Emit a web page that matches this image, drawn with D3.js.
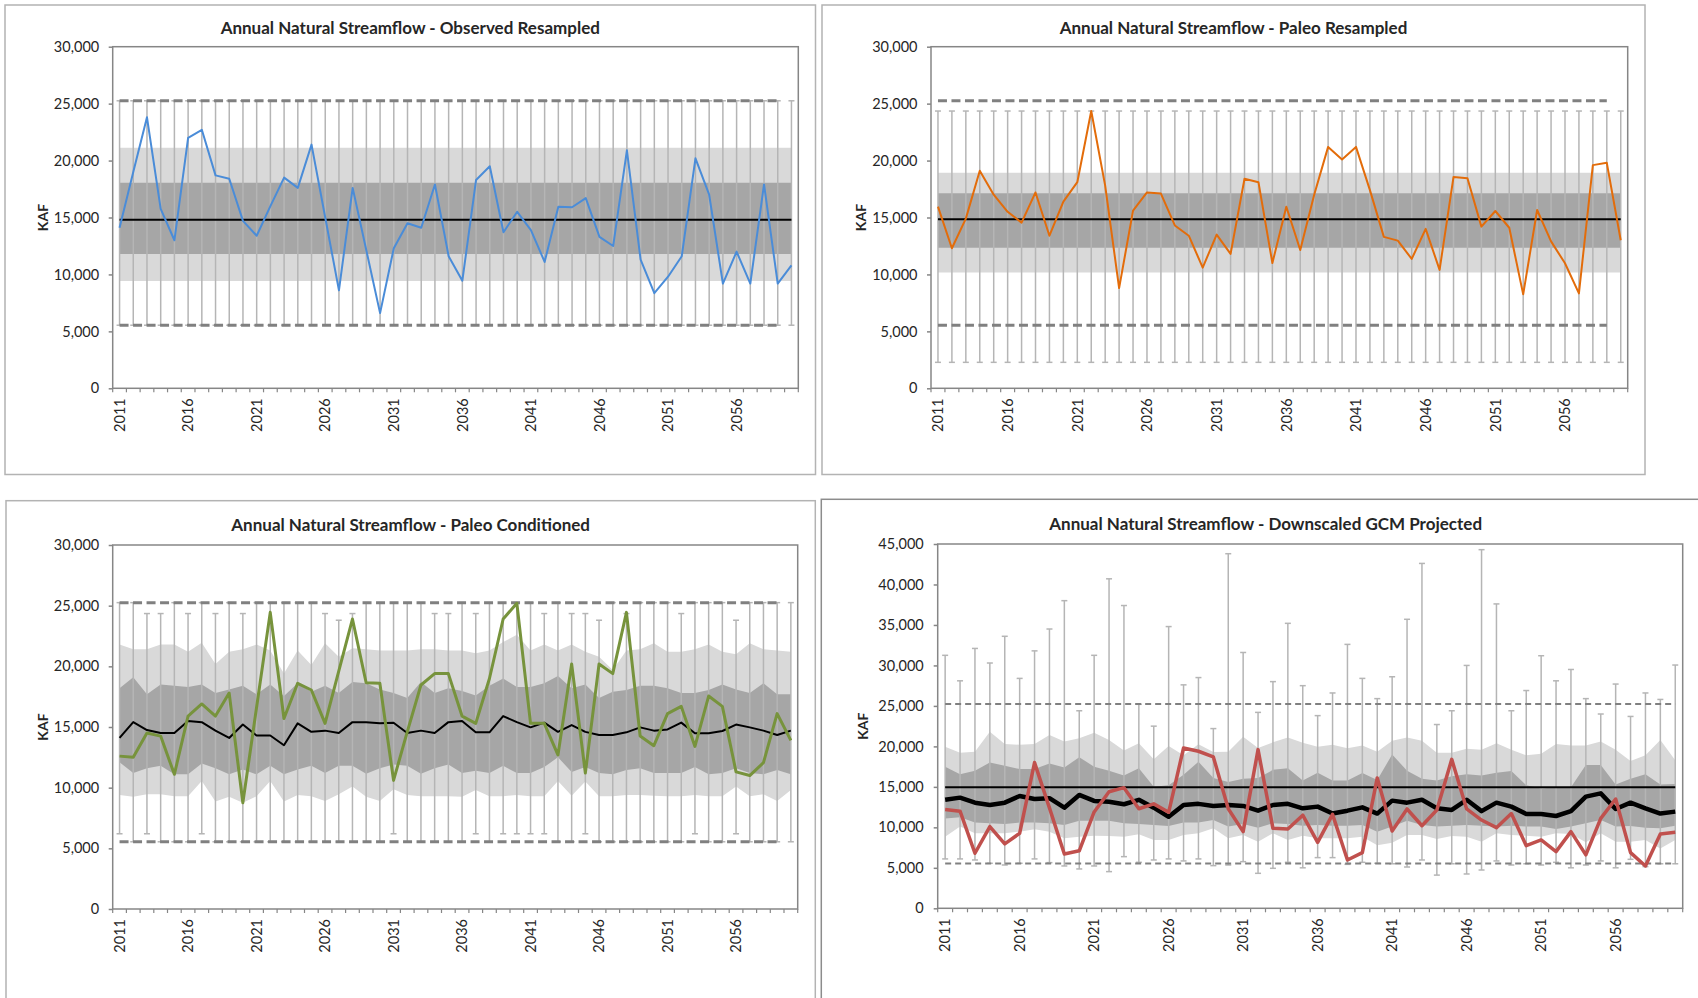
<!DOCTYPE html>
<html><head><meta charset="utf-8">
<script src="https://cdn.jsdelivr.net/npm/d3@7"></script>
<style>
body{margin:0;background:#fff;}
svg{display:block;}
text{font-family:Lato,"Open Sans","DejaVu Sans",sans-serif;fill:#262626;}
</style>
</head><body>
<svg id="chart" width="1698" height="998"></svg>
<script>
// ---------------- categories & ticks ----------------
const years = [2011,2012,2013,2014,2015,2016,2017,2018,2019,2020,2021,2022,2023,2024,2025,2026,2027,2028,2029,2030,
  2031,2032,2033,2034,2035,2036,2037,2038,2039,2040,2041,2042,2043,2044,2045,2046,2047,2048,2049,2050,
  2051,2052,2053,2054,2055,2056,2057,2058,2059,2060];
const yearLabels = [2011,2016,2021,2026,2031,2036,2041,2046,2051,2056];
const yTicks30 = [0,5000,10000,15000,20000,25000,30000];
const yTicks45 = [0,5000,10000,15000,20000,25000,30000,35000,40000,45000];

// historical reference lines (KAF)
const histMax = 25250;
const histMin = 5540;

// ---------------- Panel 1: Observed Resampled ----------------
const obsFlow = [14100,19000,23800,15750,13000,22000,22700,18700,18400,14700,13400,16000,18500,17600,21400,15000,8600,17600,12100,6600,
  12300,14500,14100,17900,11600,9450,18300,19500,13700,15500,13900,11100,15950,15900,16700,13300,12500,20900,11300,8350,
  9800,11600,20200,17000,9200,12000,9200,17900,9200,10800];
const obsMean = 14800;
const obsP10 = 9420, obsP90 = 21120, obsP25 = 11790, obsP75 = 18050;
const obsMin = 5540, obsMax = 25250;

// ---------------- Panel 2: Paleo Resampled ----------------
const paleoFlow = [15950,12300,14900,19100,17000,15500,14550,17200,13400,16400,18100,24350,17800,8800,15600,17200,17100,14300,13400,10600,
  13500,11800,18400,18100,11000,15950,12150,17000,21200,20100,21200,17400,13300,12970,11360,14000,10400,18560,18440,14200,
  15570,14100,8250,15660,12900,10980,8340,19600,19800,13000];
const paleoMean = 14850;
const paleoP10 = 10160, paleoP90 = 18940, paleoP25 = 12350, paleoP75 = 17120;
const paleoMin = 2280, paleoMax = 24350;

// ---------------- Panel 3: Paleo Conditioned ----------------
const condFlow = [12600,12500,14500,14250,11100,15900,16900,15900,17800,8760,16600,24450,15700,18600,18050,15300,19600,23900,18650,18600,
  10600,14600,18460,19400,19400,15900,15300,19000,23900,25200,15300,15300,12700,20200,11200,20200,19400,24450,14260,13460,
  16100,16700,13400,17550,16700,11300,11000,12060,16100,13900];
const condMedian = [14100,15400,14750,14500,14500,15500,15400,14700,14100,15200,14300,14300,13500,15300,14600,14700,14500,15400,15400,15300,
  15350,14500,14700,14500,15400,15500,14560,14560,15900,15400,14970,15360,14600,15160,14600,14340,14340,14560,14970,14700,
  14800,15360,14480,14480,14670,15200,14970,14700,14340,14700];
const condP90 = [21800,21400,21400,21800,21800,21200,21950,20200,21200,21400,21800,21300,19400,21300,20100,21900,20800,21500,21400,21300,
  21300,21300,21400,21400,21300,21300,21070,21300,22000,22600,21300,21800,21300,21800,21200,20800,19700,21300,21400,21900,
  21200,21200,21400,21800,21200,21000,21900,21400,21300,21200];
const condP75 = [18200,19100,17700,18500,18400,18300,18500,17800,18100,18400,17700,18500,17550,18600,17900,18400,17800,18700,18600,18100,
  17800,17400,18700,17800,18200,17970,17600,18400,19000,18300,18300,18600,19200,18200,18500,17400,17900,18050,18400,18400,
  18200,17800,17800,18050,18500,18100,17800,18600,17700,17700];
const condP25 = [12100,11200,11600,11800,11100,11100,12000,11600,11100,11500,11100,11800,11100,11500,11800,11200,11800,11800,11150,11600,
  11900,11800,11150,11600,11900,11200,11400,11200,11800,11200,11200,11700,12500,11300,11700,11200,11100,11450,11600,11200,
  11200,11200,11700,11100,11200,11600,11200,11100,11450,11100];
const condP10 = [9400,9260,9450,9450,9300,9300,10550,8850,9260,8760,9300,10550,8850,9400,9300,8900,9450,10100,9260,8900,
  9860,9400,9300,9300,9300,9260,9800,9300,9300,9400,9300,9300,10550,9340,10500,9300,9300,9400,9400,9340,
  9300,9300,9400,9300,9300,10100,9300,9450,8900,9800];
const condMax = [25250,25250,24350,24350,25250,24350,25250,24350,25250,24350,25250,25250,25250,25250,25250,24350,23800,24350,25250,25250,
  25250,25250,25250,24350,24350,25250,24350,25250,25250,25250,25250,24350,25250,24350,24350,23800,25250,24350,25250,25250,
  25250,24350,25250,25250,25250,23800,25250,25250,25250,25250];
const condMin = [6200,5540,6200,5540,5540,5540,6200,5540,5540,5540,5540,5540,5540,5540,5540,5540,5540,5540,5540,5540,
  6200,5540,5540,5540,5540,5540,6200,5540,6200,6200,6200,6200,5540,5540,6200,5540,5540,5540,5540,5540,
  5540,5540,6200,5540,5540,6200,5540,5540,5540,5540];

// ---------------- Panel 4: Downscaled GCM Projected ----------------
const gcmFlow = [12200,12000,6800,10100,7950,9260,18000,12400,6700,7100,11900,14400,14900,12300,12900,11860,19800,19400,18700,12300,
  9470,19600,9880,9800,11500,8150,11600,5970,6880,16100,9550,12270,10200,12150,18400,12270,10900,9960,11700,7740,
  8440,7000,9470,6600,11100,13500,6880,5230,9180,9390];
const gcmMedian = [13400,13670,13050,12760,13050,13870,13500,13600,12430,14000,13260,13170,12850,13400,12430,11300,12760,12900,12640,12760,
  12640,12060,12760,12900,12350,12560,11700,12060,12470,11700,13300,13050,13400,12350,12150,13400,12000,13050,12560,11650,
  11650,11400,12000,13800,14200,12270,13050,12350,11700,11940];
const gcmP90 = [19970,19200,19350,21800,20300,20200,20300,21400,20600,21000,21700,20800,19500,20400,18400,20050,18900,20260,19300,19350,
  21200,19800,20500,21100,20460,19970,20200,19760,20100,19350,20700,21100,20700,19200,19200,19700,19600,20400,19600,18900,
  19100,20300,20100,20100,20600,19600,18200,18900,20800,18300];
const gcmP75 = [17500,16550,17000,18000,17600,17200,17200,17900,17400,18650,17500,17000,16400,17300,15000,15200,16500,18100,16100,15600,
  16000,16100,17100,17300,15800,16750,15800,15800,16700,15850,19000,17000,16000,15800,16300,16550,16400,16750,16960,15200,
  14800,14950,14950,17700,17700,15300,16000,16550,15300,15350];
const gcmP25 = [11100,11240,10600,10500,10400,10600,10600,10500,10300,10800,10800,10800,10500,10400,10300,10170,10600,10600,10900,10100,
  10400,9960,10500,10400,10200,10300,10200,10200,10300,9470,10100,10800,10300,10100,10200,10300,10200,10100,10200,10100,
  10100,9800,10100,10500,10900,10100,10170,9960,9880,10200];
const gcmP10 = [8850,10100,9260,9260,9260,9470,9760,9470,8650,8850,8970,8930,8850,9140,8440,8440,9060,9260,9880,8650,
  9060,8230,9260,8440,8970,8650,8650,8650,8850,7800,8100,9060,9060,8560,8930,8850,8230,9260,9060,8970,
  8850,9260,9180,8150,9260,8230,8230,8440,7400,8440];
const gcmMax = [31250,28100,32100,30300,33600,28400,31800,34500,38000,24400,31250,40700,37400,25200,22500,34800,27600,28500,22200,43800,
  31600,24200,28000,35200,27500,23800,26600,32600,28400,25900,28600,35700,42600,22700,24400,30000,44300,37600,24400,26900,
  31200,28100,29500,25900,24000,27700,23700,26600,25800,30050];
const gcmMin = [6100,6100,5970,5560,5350,5560,6100,5640,5230,4860,5230,4530,6380,5680,5970,6100,5850,6100,5270,5350,
  5760,4320,4940,5680,5000,6260,6260,5430,5680,5560,5500,5100,5970,4100,5500,4240,4730,5850,5350,5500,
  5350,5680,5000,5350,5850,5000,6050,5150,5500,5500];
const gcmHistMean = 14950;

// ---------------- drawing ----------------
const svg = d3.select('#chart');
svg.append('rect').attr('width',1698).attr('height',998).attr('fill','#fff');

function val(v, i) { return Array.isArray(v) ? v[i] : v; }

function panel(o) {
  const g = svg.append('g');
  // chart frame
  g.append('rect')
    .attr('x', o.frame[0]).attr('y', o.frame[1])
    .attr('width', o.frame[2]-o.frame[0]).attr('height', o.frame[3]-o.frame[1])
    .attr('fill', '#fff').attr('stroke', o.frameColor || '#b3b3b3').attr('stroke-width', 1.5);

  const [px0, py0, px1, py1] = o.plot;
  const x = d3.scaleBand().domain(years).range([px0, px1]);
  const y = d3.scaleLinear().domain([0, o.yMax]).range([py1, py0]);
  const cx = d => x(d) + x.bandwidth()/2;

  // bands
  const band = (lo, hi, color) => {
    const ar = d3.area()
      .x((d,i) => cx(years[i]))
      .y0((d,i) => y(val(lo,i)))
      .y1((d,i) => y(val(hi,i)));
    g.append('path').datum(years).attr('d', ar).attr('fill', color);
  };
  band(o.p10, o.p90, '#d9d9d9');
  band(o.p25, o.p75, '#a6a6a6');

  // whiskers
  const wg = g.append('g').attr('stroke', '#b5b5b5').attr('stroke-width', 1.5).attr('fill','none');
  years.forEach((yr, i) => {
    const xx = cx(yr), top = y(val(o.wMax,i)), bot = y(val(o.wMin,i));
    wg.append('line').attr('x1',xx).attr('x2',xx).attr('y1',top).attr('y2',bot);
    wg.append('line').attr('x1',xx-3).attr('x2',xx+3).attr('y1',top).attr('y2',top);
    wg.append('line').attr('x1',xx-3).attr('x2',xx+3).attr('y1',bot).attr('y2',bot);
  });

  // dashed historical max/min lines
  const dashYears = o.dashFull ? years : years.slice(0, years.length-1);
  [histMax, histMin].forEach(v => {
    const ln = d3.line().x(d => cx(d)).y(() => y(v));
    g.append('path').datum(dashYears).attr('d', ln).attr('fill','none')
      .attr('stroke','#808080').attr('stroke-width', o.dashW).attr('stroke-dasharray', o.dashArr);
  });

  // constant mean line
  if (o.mean !== undefined) {
    const ln = d3.line().x(d => cx(d)).y(() => y(o.mean));
    g.append('path').datum(years).attr('d', ln).attr('fill','none')
      .attr('stroke','#000').attr('stroke-width', o.meanW || 2);
  }
  // median line
  if (o.median) {
    const ln = d3.line().x((d,i) => cx(years[i])).y(d => y(d));
    g.append('path').datum(o.median).attr('d', ln).attr('fill','none')
      .attr('stroke','#000').attr('stroke-width', o.medianW).attr('stroke-linejoin','round');
  }
  // series line
  const sl = d3.line().x((d,i) => cx(years[i])).y(d => y(d));
  g.append('path').datum(o.series).attr('d', sl).attr('fill','none')
    .attr('stroke', o.color).attr('stroke-width', o.lineW).attr('stroke-linejoin','round');

  // plot border
  g.append('rect').attr('x',px0).attr('y',py0).attr('width',px1-px0).attr('height',py1-py0)
    .attr('fill','none').attr('stroke','#868686').attr('stroke-width',1.5);

  // y axis
  const ya = g.append('g').attr('transform', `translate(${px0},0)`)
    .call(d3.axisLeft(y).tickValues(o.yTicks).tickSize(4).tickPadding(o.yPad).tickFormat(d3.format(',')));
  ya.select('.domain').remove();
  ya.selectAll('line').attr('stroke','#868686').attr('stroke-width',1.5);
  ya.selectAll('text').attr('font-size', 14.5).attr('fill','#262626').style('font-family','Lato, sans-serif');

  // x boundary ticks
  const xb = g.append('g').attr('stroke','#868686').attr('stroke-width',1.2);
  years.concat([null]).forEach((yr, i) => {
    const xx = yr === null ? px1 : x(yr);
    xb.append('line').attr('x1',xx).attr('x2',xx).attr('y1',py1).attr('y2',py1+4);
  });
  // x labels
  const xa = g.append('g').attr('transform', `translate(0,${py1})`)
    .call(d3.axisBottom(x).tickValues(yearLabels).tickSize(0).tickPadding(0));
  xa.select('.domain').remove();
  xa.selectAll('text')
    .attr('transform','rotate(-90)')
    .attr('text-anchor','end')
    .attr('x', -10).attr('y', 0).attr('dy','0.36em')
    .attr('font-size', 14.5).attr('fill','#262626').style('font-family','Lato, sans-serif');

  // axis title
  g.append('text').attr('transform', `translate(${px0 - o.kafOff},${(py0+py1)/2}) rotate(-90)`)
    .attr('text-anchor','middle').attr('dy','0.35em')
    .attr('font-size', 14).attr('font-weight','bold').attr('fill','#000').text('KAF');

  // title
  g.append('text').attr('x', (o.frame[0]+o.frame[2])/2).attr('y', o.titleY)
    .attr('text-anchor','middle').attr('font-size', 17).attr('font-weight','bold').attr('fill','#000')
    .text(o.title);
}

panel({
  frame:[5,5,815.5,474.5], plot:[112.7,46.7,798.3,388.3], yMax:30000, yTicks:yTicks30,
  title:'Annual Natural Streamflow - Observed Resampled', titleY:34,
  p10:obsP10, p90:obsP90, p25:obsP25, p75:obsP75, wMin:obsMin, wMax:obsMax,
  mean:obsMean, series:obsFlow, color:'#4a8cd8', lineW:2,
  dashW:3, dashArr:'9,4.5', dashFull:false, yPad:9.5, kafOff:70
});
panel({
  frame:[822,5,1645,474.5], plot:[931,46.7,1627.7,388.3], yMax:30000, yTicks:yTicks30,
  title:'Annual Natural Streamflow - Paleo Resampled', titleY:34,
  p10:paleoP10, p90:paleoP90, p25:paleoP25, p75:paleoP75, wMin:paleoMin, wMax:paleoMax,
  mean:paleoMean, series:paleoFlow, color:'#e36c0a', lineW:2,
  dashW:3, dashArr:'9,4.5', dashFull:false, yPad:9.5, kafOff:70
});
panel({
  frame:[6,500.7,815.3,1010], plot:[112.7,545,797.7,909], yMax:30000, yTicks:yTicks30,
  title:'Annual Natural Streamflow - Paleo Conditioned', titleY:531,
  p10:condP10, p90:condP90, p25:condP25, p75:condP75, wMin:condMin, wMax:condMax,
  median:condMedian, medianW:2, series:condFlow, color:'#77933c', lineW:3,
  dashW:3, dashArr:'9,4.5', dashFull:false, yPad:9.5, kafOff:70
});
panel({
  frame:[821.3,499.3,1710,1010], plot:[937.7,544,1682.7,908.3], yMax:45000, yTicks:yTicks45,
  frameColor:'#8c8c8c',
  title:'Annual Natural Streamflow - Downscaled GCM Projected', titleY:530,
  p10:gcmP10, p90:gcmP90, p25:gcmP25, p75:gcmP75, wMin:gcmMin, wMax:gcmMax,
  mean:gcmHistMean, meanW:1.8, median:gcmMedian, medianW:4.5, series:gcmFlow, color:'#c0504d', lineW:3.5,
  dashW:2, dashArr:'6,4', dashFull:true, yPad:10, kafOff:75
});
</script>
</body></html>
